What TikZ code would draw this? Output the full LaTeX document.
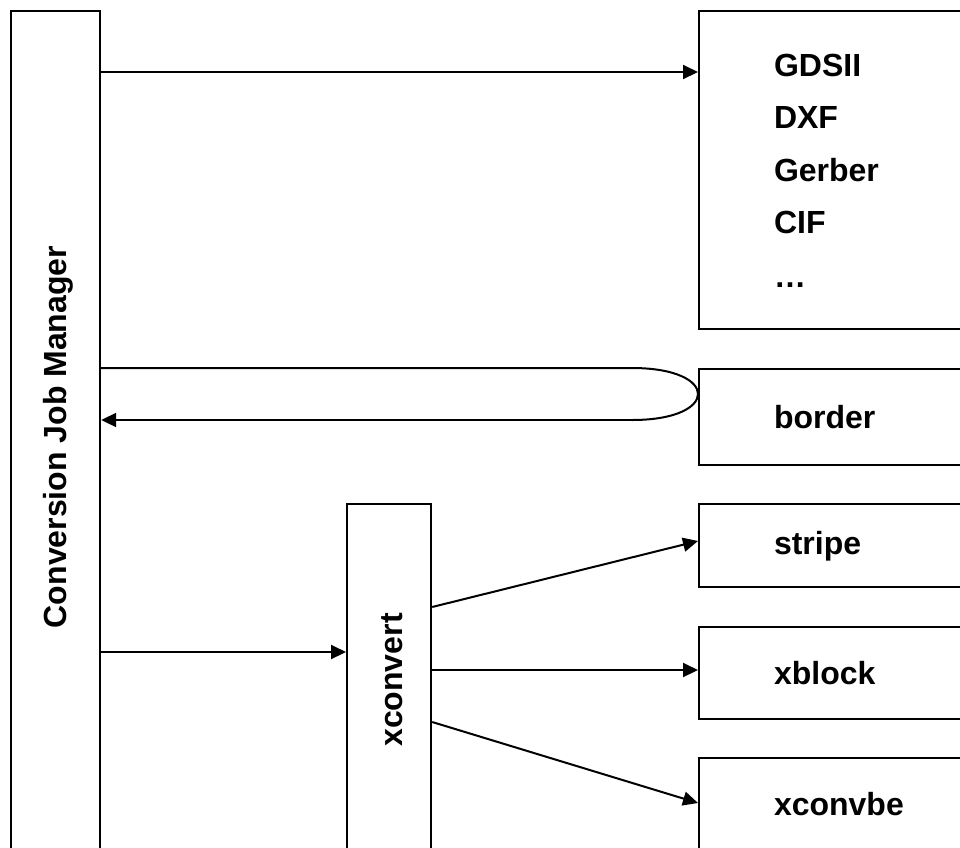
\documentclass[tikz,border=0pt]{standalone}
\usepackage{fontspec}
\setmainfont{Liberation Sans}
\usetikzlibrary{arrows.meta}
\begin{document}
\begin{tikzpicture}[x=1pt,y=-1pt,line width=2pt,
  box/.style={draw,line width=2.2pt,inner sep=0,anchor=north west},
  lbl/.style={font=\fontsize{32}{38}\selectfont\bfseries,inner sep=0,anchor=base west},
  vlbl/.style={font=\fontsize{32}{38}\selectfont\bfseries,inner sep=0,anchor=base,rotate=90},
  arr/.style={-{Triangle[length=15pt,width=14pt]},line width=2pt}]
\useasboundingbox (0,0) rectangle (960,847);
\clip (0,0) rectangle (960,847);
% boxes
\node[box,minimum width=89pt,minimum height=900pt] (cjm) at (10,10) {};
\node[box,minimum width=84pt,minimum height=400pt] (xc) at (346,503) {};
\node[box,minimum width=300pt,minimum height=318pt] (fmt) at (698,10) {};
\node[box,minimum width=300pt,minimum height=96pt] (bord) at (698,368) {};
\node[box,minimum width=300pt,minimum height=83pt] (strp) at (698,503) {};
\node[box,minimum width=300pt,minimum height=92pt] (xbl) at (698,626) {};
\node[box,minimum width=300pt,minimum height=120pt] (xcb) at (698,757) {};
% labels
\node[vlbl] (tcjm) at (66,437) {Conversion Job Manager};
\node[vlbl] (txc) at (402,680) {xconvert};
\node[lbl] (t1) at (773,76) {GDSII};
\node[lbl] (t2) at (773,128) {DXF};
\node[lbl] (t3) at (773,181) {Gerber};
\node[lbl] (t4) at (773,233) {CIF};
\node[lbl] (t5) at (773,287) {…};
\node[lbl] (tb) at (773,428) {border};
\node[lbl] (ts) at (773,554) {stripe};
\node[lbl] (tx) at (773,684) {xblock};
\node[lbl] (tv) at (773,815) {xconvbe};
% connectors
\coordinate (lpA) at (632,368);
\coordinate (lpB) at (632,420);
\draw[arr] (cjm.east |- 0,72) -- (fmt.west |- 0,72);
\draw[line width=2pt] (cjm.east |- lpA) -- (lpA) .. controls (720,368) and (720,420) .. (lpB);
\draw[arr] (lpB) -- (cjm.east |- lpB);
\draw[arr] (cjm.east |- 0,652) -- (xc.west |- 0,652);
\draw[arr] (xc.east |- 0,607) -- (strp.west |- 0,541);
\draw[arr] (xc.east |- 0,670) -- (xbl.west |- 0,670);
\draw[arr] (xc.east |- 0,722) -- (xcb.west |- 0,803);
\end{tikzpicture}
\end{document}
